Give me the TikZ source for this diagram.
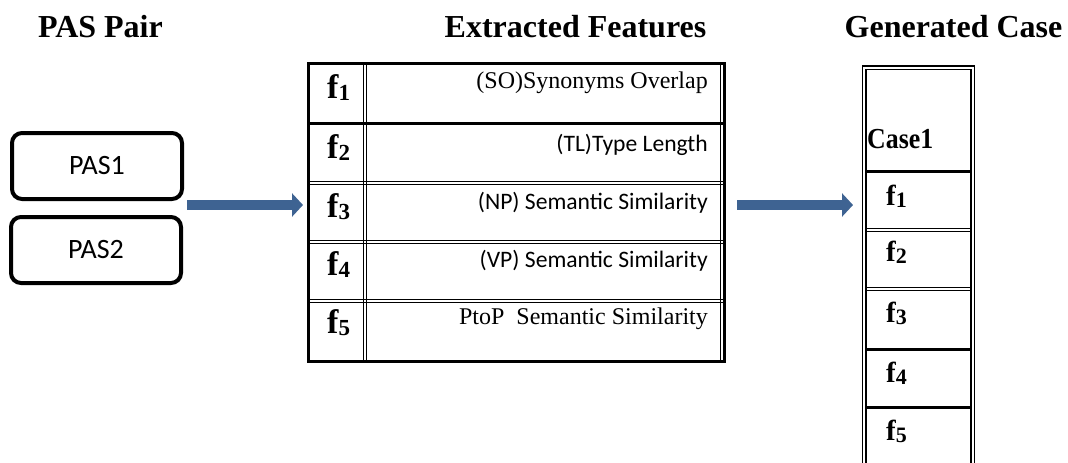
\documentclass[tikz,border=0pt]{standalone}
\usepackage{fontspec}
\setmainfont{Liberation Serif}
\newfontfamily\calibri{Carlito}
\usetikzlibrary{arrows.meta}
\definecolor{arrowblue}{RGB}{62,99,146}
% feature label: bold f with a lowered bold index
\newcommand\featlabel[3]{f\raisebox{-#3}{\fontsize{#2}{#2}\selectfont #1}}

\begin{document}
\begin{tikzpicture}[x=1pt,y=-1pt,
  title/.style={font=\fontsize{32}{32}\selectfont\bfseries, anchor=base, inner sep=0pt},
  pasbox/.style={draw, line width=4pt, rounded corners=10pt, minimum width=170pt,
    minimum height=66pt, inner sep=0pt, font=\calibri\fontsize{28}{28}\selectfont},
  fname/.style={anchor=base west, inner sep=0pt, font=\fontsize{34}{34}\selectfont\bfseries},
  cname/.style={anchor=base west, inner sep=0pt, font=\fontsize{29}{29}\selectfont\bfseries},
  ftext/.style={anchor=base east, inner sep=0pt, font=\fontsize{24}{24}\selectfont},
  fcal/.style={anchor=base east, inner sep=0pt, font=\calibri\fontsize{23.6}{24}\selectfont},
  flow/.style={line width=10pt, arrowblue, -{Triangle[length=11pt 0 0, width=23pt 0 0]}},
  heavyrule/.style={line width=3pt},
  lightrule/.style={line width=1pt},
]
\clip (0,0) rectangle (1068,463);
\fill[white] (0,0) rectangle (1068,463);

% column headings
\node[title] (tpas) at (100.5,37) {PAS Pair};
\node[title] (tfeat) at (575.5,37) {Extracted Features};
\node[title] (tcase) at (953.5,37) {Generated Case};

% PAS pair
\node[pasbox] (pas1) at (97,166) {PAS1};
\node[pasbox] (pas2) at (96,250) {PAS2};

% feature table frame
\draw[heavyrule] (308,63.5) rectangle (724,361.5);
\draw[lightrule] (720.5,63.5) -- (720.5,361.5);
\draw[line width=1.3pt] (363.8,63.5) -- (363.8,361.5);
\draw[lightrule] (366.7,63.5) -- (366.7,361.5);
\draw[heavyrule] (308,123.5) -- (724,123.5);
\foreach \yy in {183,242,301}{
  \draw[lightrule] (308,\yy-1.3) -- (724,\yy-1.3);
  \draw[lightrule] (308,\yy+1.3) -- (724,\yy+1.3);
}

% feature table contents
\node[fname] (f1) at (327,98)  {\featlabel{1}{23}{2.5pt}};
\node[fname] (f2) at (327,158) {\featlabel{2}{23}{2.5pt}};
\node[fname] (f3) at (327,217) {\featlabel{3}{23}{2.5pt}};
\node[fname] (f4) at (327,275) {\featlabel{4}{23}{2.5pt}};
\node[fname] (f5) at (327,333) {\featlabel{5}{23}{2.5pt}};
\node[ftext] (d1) at (708,88)  {(SO)Synonyms Overlap};
\node[fcal]  (d2) at (708,151) {(TL)Type Length};
\node[fcal]  (d3) at (708,209) {(NP) Semantic Similarity};
\node[fcal]  (d4) at (708,267) {(VP) Semantic Similarity};
\node[ftext] (d5) at (708,324) {PtoP\ \ Semantic Similarity};

% generated case column frame
\draw[line width=1.8pt] (862.5,470) -- (862.5,66) -- (974.5,66) -- (974.5,470);
\draw[line width=1.5pt] (865.8,470) -- (865.8,69.3) -- (970.8,69.3) -- (970.8,470);
\foreach \yy in {171,349,407}{
  \draw[heavyrule] (865.8,\yy) -- (970.8,\yy);
}
\foreach \yy in {230,289}{
  \draw[lightrule] (865.8,\yy-1.3) -- (970.8,\yy-1.3);
  \draw[lightrule] (865.8,\yy+1.3) -- (970.8,\yy+1.3);
}

% generated case contents
\node[cname] (case) at (867,148) {\scalebox{0.89}[1]{Case1}};
\node[cname] (c1) at (886,205) {\featlabel{1}{22}{2pt}};
\node[cname] (c2) at (886,261) {\featlabel{2}{22}{2pt}};
\node[cname] (c3) at (886,322) {\featlabel{3}{22}{2pt}};
\node[cname] (c4) at (886,382) {\featlabel{4}{22}{2pt}};
\node[cname] (c5) at (886,440) {\featlabel{5}{22}{2pt}};

% flow arrows
\coordinate (pairout) at (187,205);
\coordinate (tablein) at (303,205);
\coordinate (tableout) at (737,205);
\coordinate (casein) at (853,205);
\draw[flow] (pairout) -- (tablein);
\draw[flow] (tableout) -- (casein);
\end{tikzpicture}
\end{document}
